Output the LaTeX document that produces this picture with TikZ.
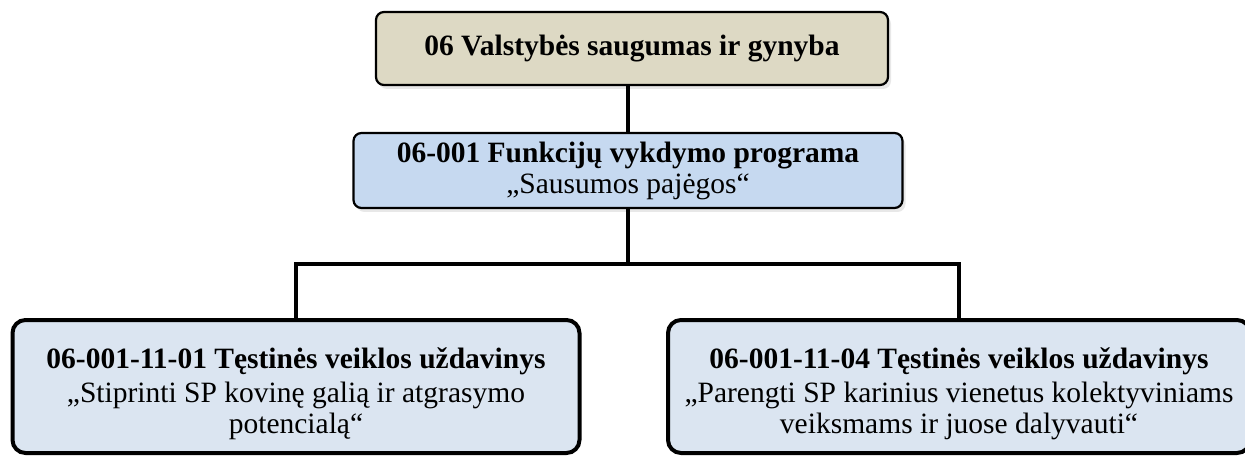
\documentclass[tikz,border=0pt]{standalone}
\usepackage{fontspec}
\setmainfont{Liberation Serif}
\usepackage{xcolor}
\usetikzlibrary{shadows}
\definecolor{beige}{RGB}{221,217,196}
\definecolor{midblue}{RGB}{198,217,240}
\definecolor{lowblue}{RGB}{219,229,241}
\newcommand{\topgap}{\rule{0pt}{36pt}}
\tikzset{x=1pt, y=1pt,
	box/.style={draw=black, rounded corners=8pt, line width=2.2pt, align=center,
		font=\fontsize{29.5}{31}\selectfont, inner sep=0pt,
		drop shadow={shadow xshift=3pt, shadow yshift=-4pt, opacity=0.18}},
	taskbox/.style={draw=black, rounded corners=13pt, line width=4pt, align=center,
		fill=lowblue, font=\fontsize{29.5}{31}\selectfont, inner sep=0pt, minimum height=133pt},
	conn/.style={line width=4pt, color=black}}

\begin{document}
\begin{tikzpicture}
	\useasboundingbox (0,0) rectangle (1245,-457);
	\node[box, fill=beige, minimum width=512pt, minimum height=73pt] (top) at (632,-48.5)
		{\textbf{06 Valstybės saugumas ir gynyba}};
	\node[box, fill=midblue, minimum width=549pt, minimum height=75pt] (mid) at (628,-170.5)
		{\textbf{06-001 Funkcijų vykdymo programa}\\„Sausumos pajėgos“};
	\node[taskbox, minimum width=567pt] (left) at (296,-386.5)
		{\topgap\textbf{06-001-11-01 Tęstinės veiklos uždavinys}\\[3pt]„Stiprinti SP kovinę galią ir atgrasymo\\potencialą“};
	\node[taskbox, minimum width=582pt] (right) at (959,-386.5)
		{\topgap\textbf{06-001-11-04 Tęstinės veiklos uždavinys}\\[3pt]„Parengti SP karinius vienetus kolektyviniams\\veiksmams ir juose dalyvauti“};
	% connectors
	\coordinate (bus) at (628,-264);
	\draw[conn] (mid.north) -- (mid.north |- top.south);
	\draw[conn] (mid.south) -- (bus);
	\draw[conn] (left.north) |- (bus) -| (right.north);
\end{tikzpicture}
\end{document}
